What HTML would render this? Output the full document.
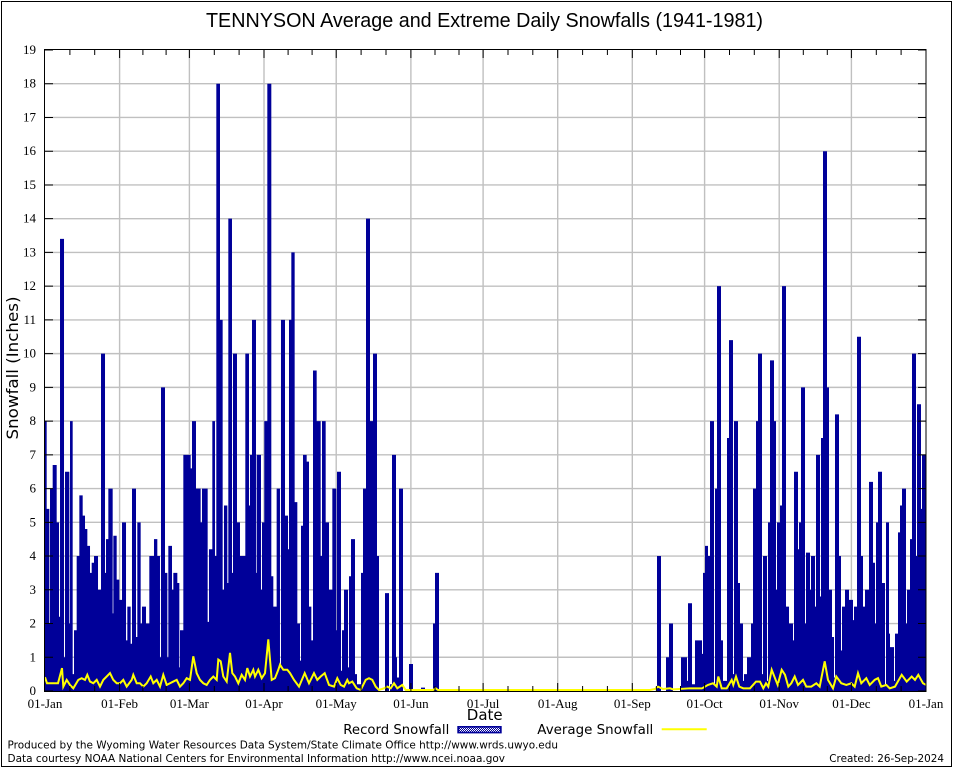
<!DOCTYPE html>
<html><head><meta charset="utf-8"><style>html,body{margin:0;padding:0;background:#fff}svg{display:block}</style></head>
<body>
<svg width="954" height="768" viewBox="0 0 954 768" xmlns="http://www.w3.org/2000/svg">
<defs>
<pattern id="pt" width="2" height="2" patternUnits="userSpaceOnUse"><rect width="2" height="2" fill="#000099"/><rect width="1" height="1" fill="#fff"/><rect x="1" y="1" width="1" height="1" fill="#fff"/></pattern>
</defs>
<rect width="954" height="768" fill="#fff"/>
<rect x="1.5" y="1.5" width="950" height="765" fill="none" stroke="#000" stroke-width="1"/>

<!-- grid -->
<g stroke="#c0c0c0" stroke-width="1.4" fill="none">
<path d="M45 657.26H926M45 623.53H926M45 589.79H926M45 556.05H926M45 522.32H926M45 488.58H926M45 454.84H926M45 421.1H926M45 387.37H926M45 353.63H926M45 319.89H926M45 286.16H926M45 252.42H926M45 218.68H926M45 184.95H926M45 151.21H926M45 117.47H926M45 83.73H926"/>
<path d="M119.6 50V691M189.4 50V691M264 50V691M336.2 50V691M410.9 50V691M483.1 50V691M557.7 50V691M632.3 50V691M704.6 50V691M779.2 50V691M851.4 50V691"/>
</g>

<!-- bars -->
<path fill="#000099" transform="matrix(1 0 0 -33.737 0 691)" d="M45 0 V8 h1.67 V5.4 h2.67 V2 h.67 V6 h2.67 V6.7 h4 V5 h2.33 V2.2 h1 V13.4 h4 V1 h1 V6.5 h4.33 V2 h.67 V8 h2.67 V.5 h1.33 V1.8 h2.67 V4 h2.67 V5.8 h3.33 V5.2 h2.33 V4.8 h2.33 V4.3 h2.67 V3.5 h1.67 V3.8 h2.33 V4 h4 V3 h3 V10 h4 V3.5 h1 V4.5 h2.33 V6 h4.33 V2.3 h.67 V4.6 h3.33 V3.3 h2.67 V2.7 h2.67 V5 h4 V1.5 h1.33 V2.5 h3.33 V1.4 h1.33 V6 h4 V1.6 h1.33 V5 h3.33 V2 h1.33 V2.5 h4 V2 h3.33 V4 h4.67 V4.5 h3.33 V4 h2.67 V1 h1 V9 H165
V3.5 h2.33 V1 h1 V4.3 h3.67 V3 h1.33 V3.5 h4 V3.2 h2 V.7 h.67 V1.8 h3.33 V7 h7.33 V6.6 h1.33 V8 h4 V6 h4.67 V5 h1.33 V6 h5.67 V2.05 h1.33 V4.2 h3.33 V8 h2.67 V4 h1.33 V18 h3.67 V11 h2.67 V3 h1.33 V5.5 h3.33 V3.2 h1 V14 h3.67 V3.5 h1 V10 h4 V5 h3 V4 h5.33 V10 h3.67 V5.5 h1 V7 h2 V11 h4 V3.5 h.67 V7 h4.33 V3 h1 V5 h2.33 V8 h3 V18 h4 V3.4 h2 V2.5 h3.33 V6 h3.33 V.7 h1 V11 H285
V5.2 h3 V4.2 h1 V11 h2.33 V13 h3.33 V5.6 h2.67 V2 h2.67 V.9 h1 V4.9 h2 V7 h3.67 V6.8 h2.33 V2.5 h2.33 V1.5 h1.67 V9.5 h3.67 V8 h4 V4 h1.33 V8 h3.67 V5 h3.33 V3 h3.33 V6 h4 V1.8 h.67 V6.5 h4 V.6 h1 V1.8 h2 V3 h4 V.7 h1 V3.4 h2 V4.5 h4 V.5 h2 V.2 h4 V3.5 h2 V6 h3 V14 h4 V8 h3 V10 h4 V4 h2 V0 h6 V2.9 h4 V0 h1 V.2 h2 V7 h4 V1 h1 V.4 h2 V6 h4 V0 h6 V.8 h4 V0 h8 V.1 h4 V0 h8 V2 h2 V3.5 H439 V0 H657
V4 h4 V0 h5 V1 h3 V2 h4 V0 h8 V1 h6 V.3 h1 V2.6 h4 V.2 h3 V1.5 h7 V1.1 h1 V3.5 h2 V4.3 h3 V4 h2 V8 h4 V.2 h1 V6 h2 V12 h4 V1.5 h2 V.3 h4 V7.5 h2 V10.4 h4 V.5 h1 V8 h4 V3.2 h2 V2 h3 V.3 h1 V.5 h3 V1 h4 V2 h2 V6 h3 V8 h2 V10 h4 V.5 h1 V4 h4 V.3 h1 V5 h2 V9.8 h4 V8 h2 V3 h1 V5 h3 V5.5 h2 V12 h4 V2.5 H789
V2 h4 V1.5 h1 V6.5 h4 V4.2 h1 V5 h2 V9 h4 V2 h1 V4.1 h4 V3 h1 V4 h4 V2.5 h1 V7 h4 V2.8 h1 V7.5 h2 V16 h4 V9 h2 V3 h3 V1.6 h2 V.4 h1 V8.2 h4 V4 h2 V1.2 h1 V2.5 h3 V3 h4 V2.7 h4 V2.1 h1 V2.5 h3 V10.5 h4 V4 h2 V2.5 h2 V3 h1 V3 h3 V6.2 h4 V3.8 h2 V2 h1 V5 h2 V6.5 h4 V3.2 h3 V.2 h1 V5 h3 V1.7 h1 V1.3 h4 V.3 h1 V1.7 h3 V4.7 h2 V5.5 h2 V6 h4 V2 h1 V3 h3 V4.5 h2 V10 h4 V4 h1 V8.5 h4 V5.4 h1 V7 H926 V0 Z"/>

<!-- average line -->
<polyline fill="none" stroke="#ffff00" stroke-width="2" vector-effect="non-scaling-stroke" stroke-linejoin="miter" transform="matrix(1 0 0 -33.737 0 690)" points="45,0.38 47,0.2 58,0.2 62,0.65 63.3,0.1 66.7,0.3 70,0.15 73.3,0.05 78.3,0.3 81.7,0.35 85,0.3 87.3,0.45 90,0.25 93.3,0.2 96.7,0.3 100,0.1 103.3,0.3 106.7,0.4 110,0.5 113.3,0.3 116.7,0.2 120,0.2 123.3,0.3 126.7,0.1 131.7,0.3 133.3,0.45 136.7,0.2 140,0.2 143.3,0.1 146.7,0.2 150.7,0.4 153.3,0.2 156.7,0.3 160,0.1 163.3,0.45 166.7,0.15 170,0.2 173.3,0.25 176.7,0.3 180,0.1 183.3,0.2 186.7,0.35 190,0.3 193.3,1.0 196.7,0.5 200,0.3 203.3,0.2 206.7,0.15 210,0.3 213.3,0.4 216.7,0.3 218.3,0.9 220.7,0.85 223.3,0.4 226.7,0.25 230,1.1 232.3,0.5 235,0.4 238.3,0.2 241.7,0.45 245,0.3 247.3,0.65 250,0.4 253.3,0.6 255,0.4 258.3,0.6 261.7,0.35 265,0.5 268.3,1.5 271.7,0.3 275,0.35 278.3,0.6 280,0.75 283.3,0.6 287.3,0.6 290,0.5 294,0.3 299,0.1 304.7,0.5 309,0.2 314,0.5 317.3,0.3 320.7,0.4 324.7,0.5 329,0.15 334,0.1 337.3,0.35 340.7,0.15 344,0.1 347.3,0.3 349,0.2 352.3,0.25 356.7,0.05 360.7,0 365.7,0.3 369,0.35 372.3,0.3 375.7,0.1 379,0 384,0.05 387.3,0.1 390.7,0.05 394,0.2 397.3,0.05 402.3,0.15 405.7,0 433,0 435.7,0.05 438,0 650,0 655,0.03 658,0.1 663,0.03 670,0.05 673,0.02 690,0.05 702,0.05 708,0.15 713,0.2 716.7,0.1 718.3,0.4 721.7,0.05 726.7,0.05 731.7,0.3 733.3,0.15 736,0.4 739.3,0.1 743.3,0.05 750,0.05 756,0.25 760,0.25 763.3,0.05 766,0.2 768.3,0.1 771.7,0.6 775,0.35 777.7,0.15 781.7,0.6 785,0.45 788.3,0.1 791.3,0.2 794.7,0.4 798,0.15 803,0.3 806.3,0.1 811.3,0.1 816.3,0.2 819.7,0.1 824.7,0.85 828,0.3 833,0.05 836.3,0.4 841.3,0.2 846.3,0.15 851.3,0.2 854.7,0.1 858,0.5 861.3,0.2 866.3,0.35 869.7,0.15 874.7,0.3 878,0.35 881.3,0.1 886.3,0.15 889.7,0.05 895,0.1 901.7,0.45 906.7,0.25 911.7,0.4 915,0.3 918.3,0.45 923,0.2 926,0.15"/>

<!-- axes frame -->
<rect x="44.5" y="49.5" width="881.5" height="642" fill="none" stroke="#000" stroke-width="1"/>

<!-- ticks -->
<g stroke="#000" stroke-width="1" fill="none">
<path d="M45 691h8M45 657.26h8M45 623.53h8M45 589.79h8M45 556.05h8M45 522.32h8M45 488.58h8M45 454.84h8M45 421.1h8M45 387.37h8M45 353.63h8M45 319.89h8M45 286.16h8M45 252.42h8M45 218.68h8M45 184.95h8M45 151.21h8M45 117.47h8M45 83.73h8M45 50h8"/>
<path d="M926 691h-8M926 657.26h-8M926 623.53h-8M926 589.79h-8M926 556.05h-8M926 522.32h-8M926 488.58h-8M926 454.84h-8M926 421.1h-8M926 387.37h-8M926 353.63h-8M926 319.89h-8M926 286.16h-8M926 252.42h-8M926 218.68h-8M926 184.95h-8M926 151.21h-8M926 117.47h-8M926 83.73h-8M926 50h-8"/>
<path d="M119.6 691v-8M189.4 691v-8M264 691v-8M336.2 691v-8M410.9 691v-8M483.1 691v-8M557.7 691v-8M632.3 691v-8M704.6 691v-8M779.2 691v-8M851.4 691v-8"/>
<path d="M119.6 50v8M189.4 50v8M264 50v8M336.2 50v8M410.9 50v8M483.1 50v8M557.7 50v8M632.3 50v8M704.6 50v8M779.2 50v8M851.4 50v8"/>
<path d="M69.9 691v-5M94.7 691v-5M142.9 691v-5M166.1 691v-5M214.3 691v-5M239.1 691v-5M288.1 691v-5M312.1 691v-5M361.1 691v-5M386 691v-5M435 691v-5M459 691v-5M508 691v-5M532.8 691v-5M582.6 691v-5M607.4 691v-5M656.4 691v-5M680.5 691v-5M729.5 691v-5M754.3 691v-5M803.3 691v-5M827.3 691v-5M876.3 691v-5M901.1 691v-5"/>
<path d="M69.9 50v5M94.7 50v5M142.9 50v5M166.1 50v5M214.3 50v5M239.1 50v5M288.1 50v5M312.1 50v5M361.1 50v5M386 50v5M435 50v5M459 50v5M508 50v5M532.8 50v5M582.6 50v5M607.4 50v5M656.4 50v5M680.5 50v5M729.5 50v5M754.3 50v5M803.3 50v5M827.3 50v5M876.3 50v5M901.1 50v5"/>
</g>

<!-- y tick labels -->
<g font-family="'Liberation Serif', serif" font-size="13" fill="#000" text-anchor="end">
<text x="36" y="695">0</text>
<text x="36" y="661.3">1</text>
<text x="36" y="627.5">2</text>
<text x="36" y="593.8">3</text>
<text x="36" y="560">4</text>
<text x="36" y="526.3">5</text>
<text x="36" y="492.6">6</text>
<text x="36" y="458.8">7</text>
<text x="36" y="425.1">8</text>
<text x="36" y="391.4">9</text>
<text x="36" y="357.6">10</text>
<text x="36" y="323.9">11</text>
<text x="36" y="290.2">12</text>
<text x="36" y="256.4">13</text>
<text x="36" y="222.7">14</text>
<text x="36" y="189">15</text>
<text x="36" y="155.2">16</text>
<text x="36" y="121.5">17</text>
<text x="36" y="87.7">18</text>
<text x="36" y="54">19</text>
</g>

<!-- x tick labels -->
<g font-family="'Liberation Serif', serif" font-size="13" fill="#000" text-anchor="middle">
<text x="45" y="708">01-Jan</text>
<text x="119.6" y="708">01-Feb</text>
<text x="189.4" y="708">01-Mar</text>
<text x="264" y="708">01-Apr</text>
<text x="336.2" y="708">01-May</text>
<text x="410.9" y="708">01-Jun</text>
<text x="483.1" y="708">01-Jul</text>
<text x="557.7" y="708">01-Aug</text>
<text x="632.3" y="708">01-Sep</text>
<text x="704.6" y="708">01-Oct</text>
<text x="779.2" y="708">01-Nov</text>
<text x="851.4" y="708">01-Dec</text>
<text x="926" y="708">01-Jan</text>
</g>

<!-- title -->
<text x="206" y="27" font-family="'Liberation Sans', Arial, sans-serif" font-size="20" fill="#000" textLength="557" lengthAdjust="spacingAndGlyphs">TENNYSON Average and Extreme Daily Snowfalls (1941-1981)</text>

<!-- axis labels -->
<text transform="translate(18,368) rotate(-90)" text-anchor="middle" font-family="'DejaVu Sans', sans-serif" font-size="16" fill="#000" textLength="143" lengthAdjust="spacingAndGlyphs">Snowfall (Inches)</text>
<text x="484.7" y="720" text-anchor="middle" font-family="'DejaVu Sans', sans-serif" font-size="15" fill="#000">Date</text>

<!-- legend -->
<g font-family="'DejaVu Sans', sans-serif" font-size="13" fill="#000">
<text x="343.3" y="734" textLength="106" lengthAdjust="spacingAndGlyphs">Record Snowfall</text>
<text x="537.3" y="734" textLength="116" lengthAdjust="spacingAndGlyphs">Average Snowfall</text>
</g>
<rect x="457.3" y="726" width="44.4" height="7.4" fill="#000099"/>
<rect x="459.3" y="727.7" width="40.7" height="4" fill="url(#pt)"/>
<line x1="661.7" y1="729.3" x2="706.7" y2="729.3" stroke="#ffff00" stroke-width="2"/>

<!-- footer -->
<g font-family="'DejaVu Sans', sans-serif" font-size="11" fill="#000">
<text x="7.5" y="748.5" textLength="550.5" lengthAdjust="spacingAndGlyphs">Produced by the Wyoming Water Resources Data System/State Climate Office http://www.wrds.uwyo.edu</text>
<text x="7.5" y="762" textLength="497.5" lengthAdjust="spacingAndGlyphs">Data courtesy NOAA National Centers for Environmental Information http://www.ncei.noaa.gov</text>
<text x="944" y="762" text-anchor="end" textLength="114.7" lengthAdjust="spacingAndGlyphs">Created: 26-Sep-2024</text>
</g>
</svg>
</body></html>
